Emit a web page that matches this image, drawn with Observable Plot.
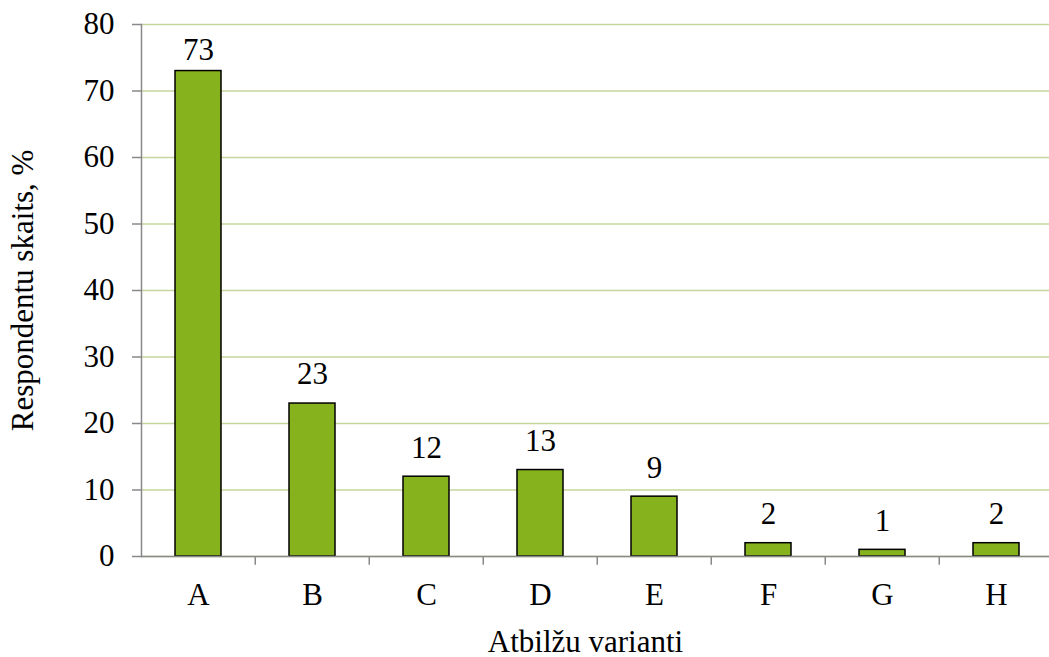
<!DOCTYPE html>
<html>
<head>
<meta charset="utf-8">
<script src="https://cdn.jsdelivr.net/npm/d3@7"></script>
<script src="https://cdn.jsdelivr.net/npm/@observablehq/plot@0.6"></script>
<style>
  html, body { margin: 0; padding: 0; background: #fff; }
  svg { display: block; }
  svg text { font-family: 'Liberation Serif', 'Times New Roman', serif !important; }
</style>
</head>
<body>
<div id="chart"></div>
<script>
const categories = ["A", "B", "C", "D", "E", "F", "G", "H"];
const values = [73, 23, 12, 13, 9, 2, 1, 2];
const yTicks = [0, 10, 20, 30, 40, 50, 60, 70, 80];
const yTitle = "Respondentu skaits, %";
const xTitle = "Atbilžu varianti";

const data = categories.map((c, i) => ({cat: c, value: values[i]}));

const W = 1049, H = 657;
const mLeft = 141, mTop = 24, mBottom = 101;
const xRange = [139, 1055];
const step = (xRange[1] - xRange[0]) / categories.length;
const FONT = "Liberation Serif";
const FS = 31;

const chart = Plot.plot({
  width: W,
  height: H,
  marginLeft: mLeft,
  marginTop: mTop,
  marginBottom: mBottom,
  marginRight: 0,
  style: {fontFamily: "'Liberation Serif', 'Times New Roman', serif", fontSize: FS + "px", color: "#000", background: "#fff"},
  x: {domain: categories, range: xRange, paddingInner: 0.6, paddingOuter: 0.3},
  y: {domain: [0, 80]},
  marks: [
    Plot.gridY(yTicks, {stroke: "#c3d69b", strokeOpacity: 1, strokeWidth: 1.5}),
    Plot.frame({anchor: "left", stroke: "#898989", strokeWidth: 1.5}),
    Plot.ruleX(categories.slice(1), {x: d => d, dx: -step / 2, y1: 0, y2: -1.3, stroke: "#898989", strokeWidth: 1.5}),
    Plot.barY(data, {x: "cat", y: "value", fill: "#86b21d", stroke: "#000", strokeWidth: 1.5}),
    Plot.ruleY([0], {stroke: "#898989", strokeWidth: 1.5}),
    Plot.text(data, {filter: d => d.value < 70, x: "cat", y: "value", text: d => String(d.value), dy: -29, fill: "#000", fontSize: FS, fontFamily: FONT}),
    Plot.text(data, {filter: d => d.value >= 70, x: "cat", y: "value", text: d => String(d.value), dy: -21, fill: "#000", fontSize: FS, fontFamily: FONT}),
    Plot.axisY(yTicks, {tickSize: 9, tickPadding: 18, stroke: "#898989", strokeWidth: 1.5, fill: "#000", fontSize: FS, fontFamily: FONT,
      label: yTitle, labelAnchor: "center", labelArrow: "none", labelOffset: 131}),
    Plot.axisX({tickSize: 0, tickPadding: 26, fill: "#000", fontSize: FS, fontFamily: FONT,
      label: null}),
    Plot.text([xTitle], {frameAnchor: "bottom", text: d => d, dy: 95, dx: -10, fontSize: FS, fontFamily: FONT, fill: "#000"})
  ]
});
document.getElementById("chart").appendChild(chart);
</script>
</body>
</html>
